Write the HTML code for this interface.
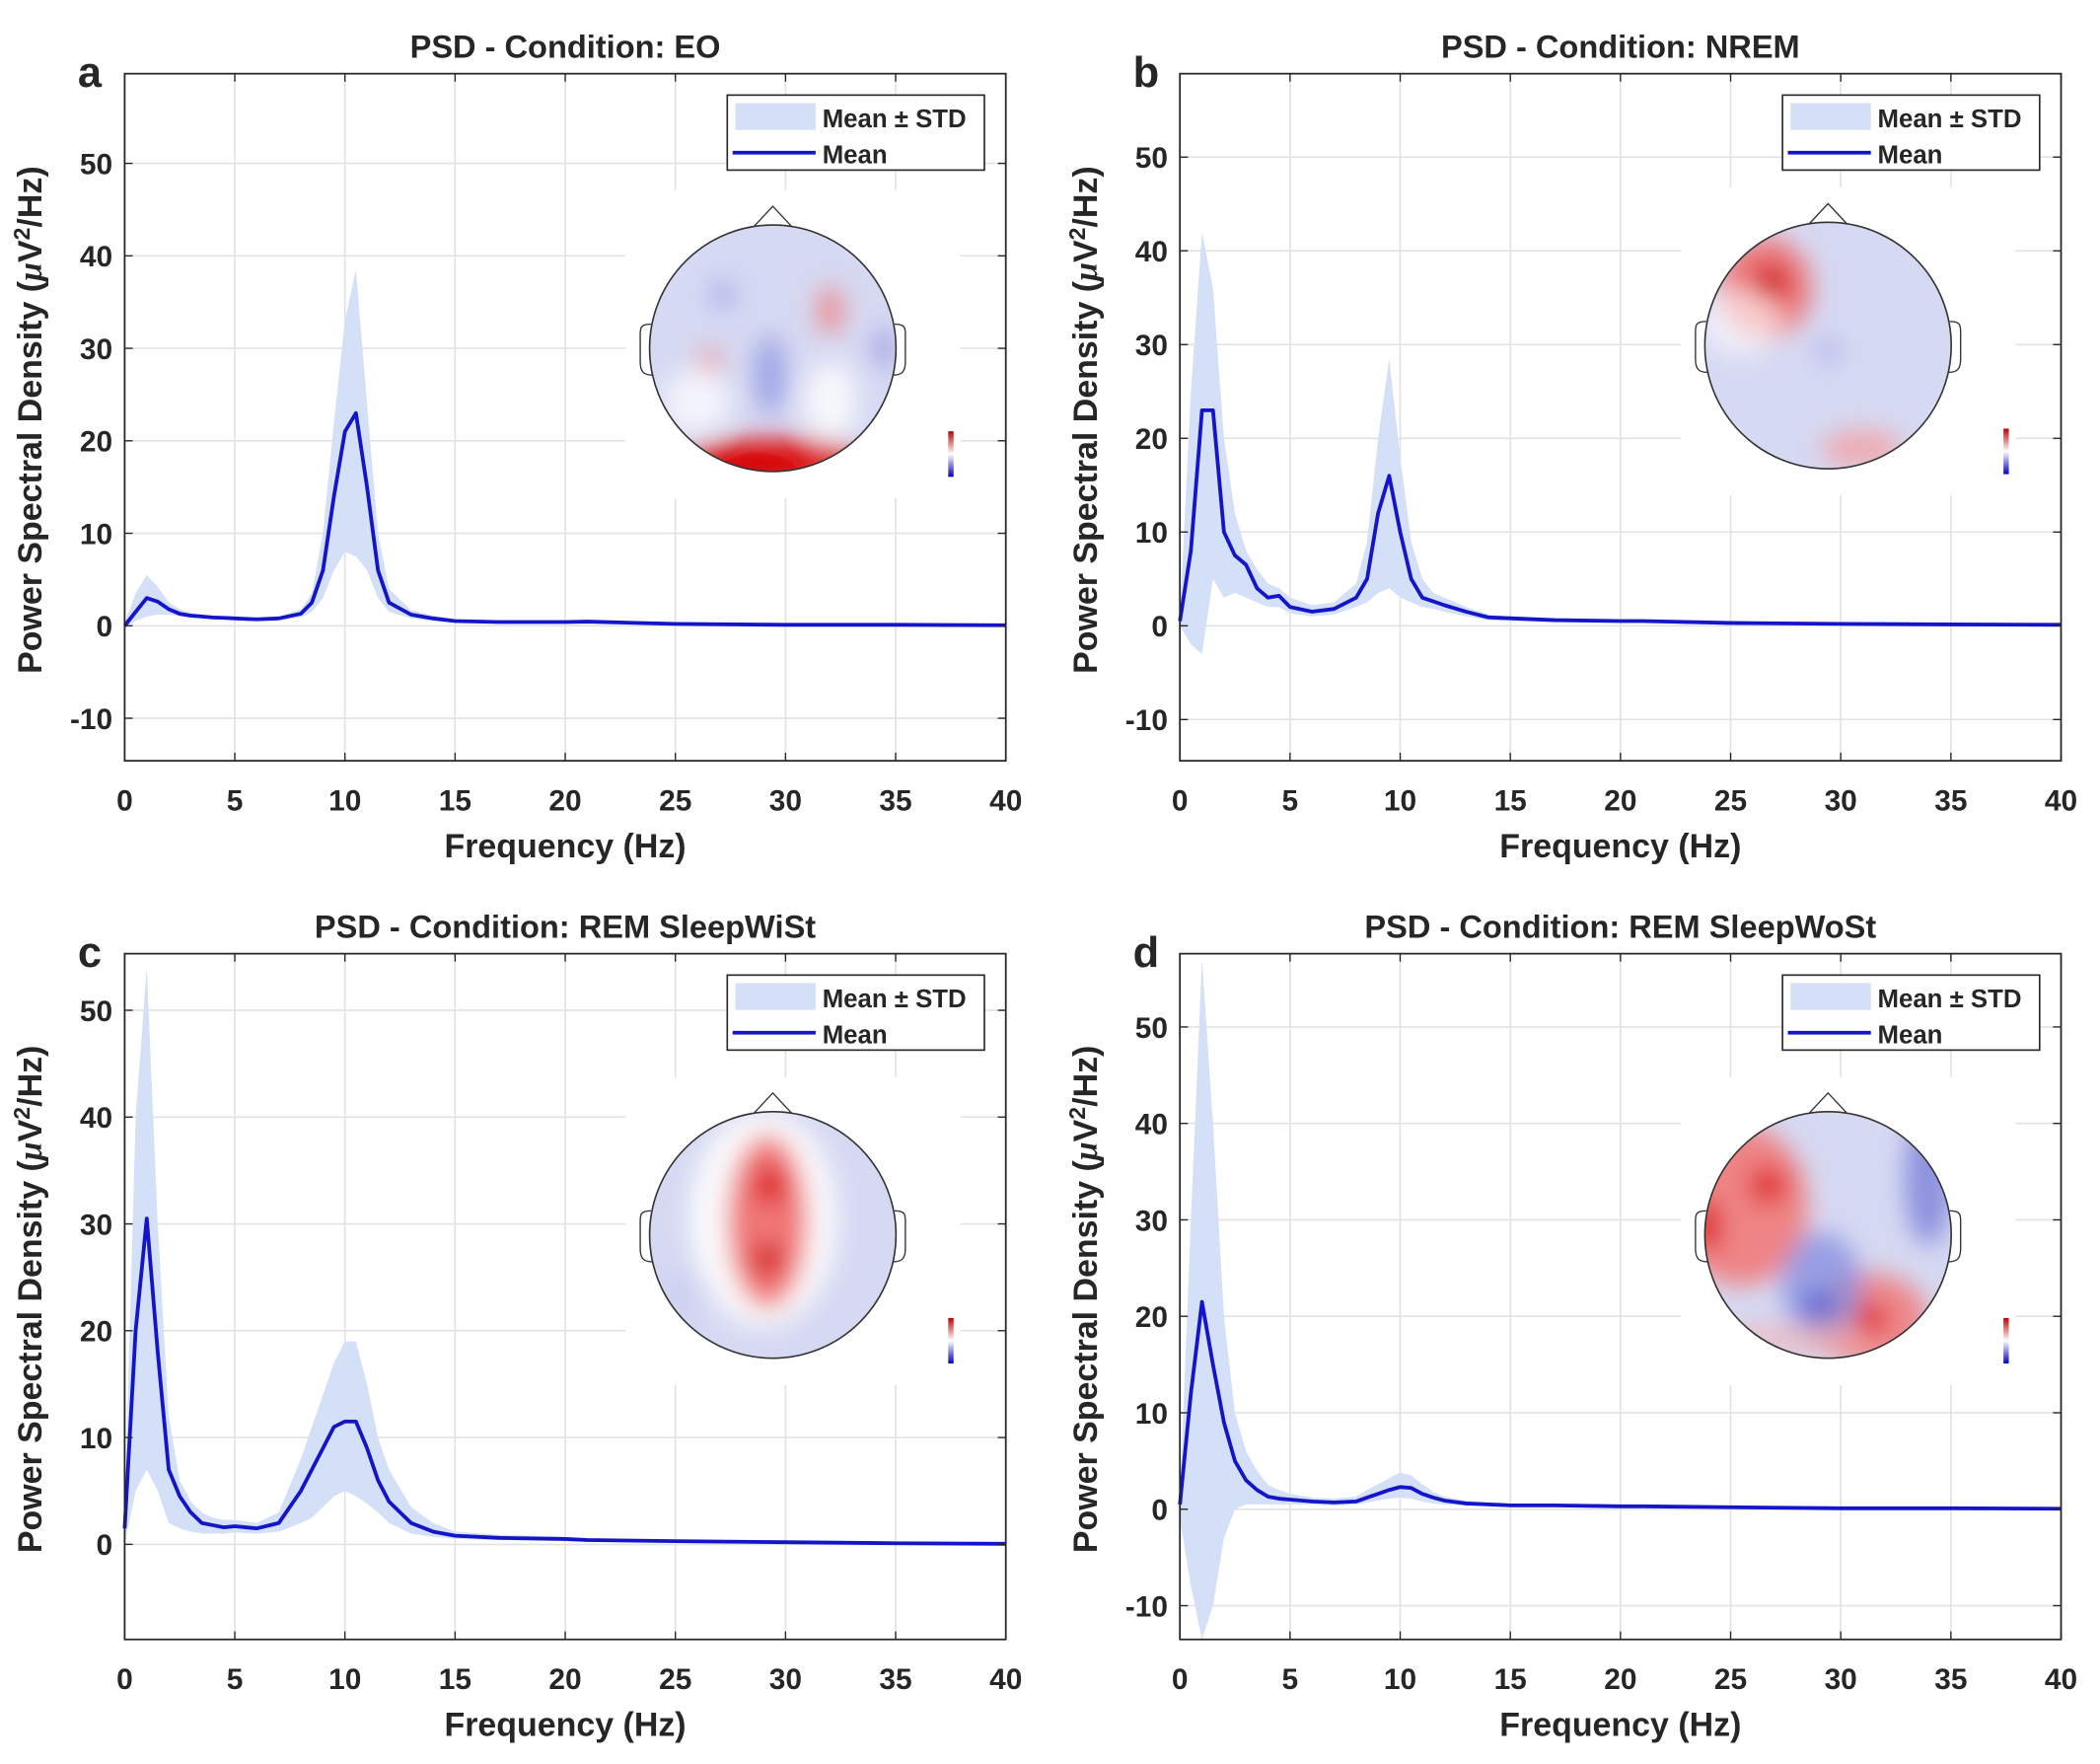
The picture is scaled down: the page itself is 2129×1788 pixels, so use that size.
<!DOCTYPE html>
<html><head><meta charset="utf-8"><style>
html,body{margin:0;padding:0;background:#fff}
svg{display:block}
text{font-family:"Liberation Sans",Arial,sans-serif;font-weight:bold;fill:#262626}
</style></head><body>
<svg id="fig" xmlns="http://www.w3.org/2000/svg" width="2129" height="1788" viewBox="0 0 1568 1317">
<defs>
<filter id="blur" x="-50%" y="-50%" width="200%" height="200%"><feGaussianBlur stdDeviation="9"/></filter>
<linearGradient id="cbar" x1="0" y1="0" x2="0" y2="1"><stop offset="0" stop-color="#c00000"/><stop offset="0.5" stop-color="#ffffff"/><stop offset="1" stop-color="#0000c0"/></linearGradient>
</defs>
</svg>
<script>
const freqs=[0,0.5,1,1.5,2,2.5,3,3.5,4,4.5,5,6,7,8,8.5,9,9.5,10,10.5,11,11.5,12,13,14,15,17,20,21,25,30,35,40];
const xTicks=[0,5,10,15,20,25,30,35,40];
const meanA=[0,1.5,3,2.6,1.8,1.3,1.1,1.0,0.9,0.85,0.8,0.7,0.8,1.3,2.5,6,14,21,23,15,6,2.5,1.2,0.8,0.5,0.4,0.4,0.45,0.2,0.1,0.1,0.05];
const upA=[0.3,3.5,5.5,4.2,2.5,1.8,1.4,1.2,1.1,1.0,1.0,0.9,1.0,1.8,3.5,10,22,33,38.5,24,10,4,1.7,1.1,0.7,0.6,0.6,0.6,0.3,0.2,0.15,0.1];
const loA=[-0.3,0.5,1,1.2,1.2,1.0,0.9,0.8,0.75,0.7,0.65,0.55,0.6,0.9,1.5,3,6,8,7.5,6,3,1.5,0.8,0.5,0.35,0.3,0.3,0.3,0.1,0.05,0.05,0];
const meanB=[0.5,8,23,23,10,7.5,6.5,4,3,3.2,2,1.5,1.8,3,5,12,16,10,5,3,2.6,2.2,1.5,0.9,0.8,0.6,0.5,0.5,0.3,0.2,0.15,0.1];
const upB=[1,25,42,36,20,12,8,6,4.5,4,3,2.2,2.5,4.5,9,20,28.5,18,9,5,3.5,3,2,1.2,1,0.8,0.7,0.6,0.4,0.3,0.2,0.15];
const loB=[0,-2,-3,5,3,3.5,3,2.5,2,2,1.3,1,1.2,2,2.5,3.5,4,3,2.5,2,1.8,1.5,1,0.6,0.5,0.4,0.3,0.3,0.2,0.1,0.1,0.05];
const meanC=[1.5,20,30.5,18,7,4.5,3,2,1.8,1.6,1.7,1.5,2,5,7,9,11,11.5,11.5,9,6,4,2,1.2,0.8,0.6,0.5,0.4,0.3,0.2,0.1,0.05];
const upC=[3,40,54,30,12,6,4,3,2.5,2.3,2.3,2,3,8,11,14,17,19,19,15,10,7,3.5,2,1.2,0.9,0.7,0.6,0.4,0.3,0.2,0.1];
const loC=[0,5,7,5,2,1.5,1.2,1,1,1,1.1,1,1.2,2,2.5,3.5,4.5,5,4.5,3.8,3,2,1,0.7,0.5,0.4,0.3,0.3,0.2,0.1,0.05,0];
const meanD=[0.5,12,21.5,15,9,5,3,2,1.3,1.1,1,0.8,0.7,0.8,1.2,1.6,2,2.3,2.2,1.6,1.2,0.9,0.6,0.5,0.4,0.4,0.3,0.3,0.2,0.1,0.1,0.05];
const upD=[1,30,57,40,20,10,6,4,2.5,2,1.6,1.2,1.1,1.3,2,2.6,3.2,3.8,3.5,2.6,1.8,1.3,0.9,0.7,0.6,0.5,0.4,0.4,0.3,0.2,0.15,0.1];
const loD=[-1,-8,-13.5,-10,-3,0,0.5,0.5,0.5,0.5,0.5,0.5,0.4,0.5,0.7,0.9,1.1,1.2,1.1,0.8,0.6,0.5,0.4,0.3,0.3,0.3,0.2,0.2,0.1,0.05,0.05,0];
const yTicksA=[-10,0,10,20,30,40,50];
const yTicksC=[0,10,20,30,40,50];

const NS="http://www.w3.org/2000/svg";
const svg=document.getElementById('fig');
function el(tag,attrs,parent,txt){const e=document.createElementNS(NS,tag);for(const k in attrs)e.setAttribute(k,attrs[k]);if(txt!==undefined)e.textContent=txt;(parent||svg).appendChild(e);return e;}

const panels=[
 {id:'a',title:'PSD - Condition: EO',ox:0,oy:0,top:55,bot:568,ymin:-14.6,ymax:59.7,yt:yTicksA,m:meanA,u:upA,l:loA,head:[577,260],
  blobs:[[577,345,70,18,'#e01010',0.95],[560,352,40,12,'#d00000',0.9],[620,232,10,18,'#f08080',0.8],[530,270,10,10,'#f09090',0.7],[620,300,20,30,'#ffffff',0.8],[520,300,25,25,'#ffffff',0.7],[575,280,12,30,'#8890e0',0.7],[540,220,10,10,'#9aa0e8',0.7],[660,260,8,15,'#7a80d8',0.6]]},
 {id:'b',title:'PSD - Condition: NREM',ox:788,oy:0,top:55,bot:568,ymin:-14.4,ymax:58.9,yt:yTicksA,m:meanB,u:upB,l:loB,head:[1365,258],
  blobs:[[1318,215,35,38,'#f07070',0.9],[1322,212,14,14,'#d01010',0.95],[1300,240,30,25,'#ffffff',0.6],[1390,335,30,14,'#f4a0a0',0.8],[1365,262,10,10,'#a0a6e8',0.6]]},
 {id:'c',title:'PSD - Condition: REM SleepWiSt',ox:0,oy:657,top:712,bot:1224,ymin:-8.9,ymax:55.3,yt:yTicksC,m:meanC,u:upC,l:loC,head:[577,922],
  blobs:[[570,910,55,80,'#ffffff',0.9],[573,912,30,65,'#f07070',0.95],[575,885,12,14,'#d81010',0.9],[573,940,12,12,'#d01010',0.9],[510,965,20,20,'#c8ccf0',0.5]]},
 {id:'d',title:'PSD - Condition: REM SleepWoSt',ox:788,oy:657,top:712,bot:1224,ymin:-13.5,ymax:57.6,yt:yTicksA,m:meanD,u:upD,l:loD,head:[1365,922],
  blobs:[[1300,900,50,60,'#f08080',0.95],[1320,885,15,15,'#e03030',0.9],[1275,915,10,20,'#d80000',0.9],[1395,985,45,35,'#f08080',0.9],[1397,985,12,12,'#e02020',0.9],[1360,960,30,40,'#8890e0',0.8],[1358,975,10,10,'#4050d0',0.9],[1440,880,18,50,'#7a80d8',0.8],[1340,1000,60,12,'#f4b0b0',0.6]]}
];

panels.forEach(p=>{
 const L=93+p.ox,R=751+p.ox,T=p.top,B=p.bot;
 const g=el('g',{});
 
 
 const xs=v=>L+(v-0)/(40-0)*(R-L);
 const ys=v=>B-(v-p.ymin)/(p.ymax-p.ymin)*(B-T);
 el('rect',{x:L,y:T,width:R-L,height:B-T,fill:'#fff'},g);
 const grid=el('g',{stroke:'#e2e2e2','stroke-width':1.2},g);
 
 
 xTicks.forEach(t=>{el('line',{x1:xs(t),x2:xs(t),y1:T,y2:B},grid);});
 p.yt.forEach(t=>{el('line',{x1:L,x2:R,y1:ys(t),y2:ys(t)},grid);});
 const [hx,hy]=p.head;
 el('rect',{x:hx-110,y:hy-118,width:250,height:230,fill:'#fff'},g);
 let d='';
 freqs.forEach((f,i)=>{d+=(i?'L':'M')+xs(f).toFixed(1)+','+ys(p.u[i]).toFixed(1);});
 for(let i=freqs.length-1;i>=0;i--)d+='L'+xs(freqs[i]).toFixed(1)+','+ys(p.l[i]).toFixed(1);
 const band=el('path',{d:d+'Z',fill:'#d3e0f7',stroke:'none'},g);
 
 
 let dm='';
 freqs.forEach((f,i)=>{dm+=(i?'L':'M')+xs(f).toFixed(1)+','+ys(p.m[i]).toFixed(1);});
 const ml=el('path',{d:dm,fill:'none',stroke:'#1414c8','stroke-width':2.8,'stroke-linejoin':'round'},g);
 
 
 const topo=el('g',{},g);
 
 
 const cid='clip'+p.id;
 const cp=el('clipPath',{id:cid},topo);el('circle',{cx:hx,cy:hy,r:92},cp);
 el('path',{d:`M${hx-14},${hy-91}L${hx},${hy-106}L${hx+14},${hy-91}`,fill:'#fff',stroke:'#333','stroke-width':1},topo);
 el('path',{d:`M${hx-91},${hy-18}C${hx-99},${hy-18} ${hx-99},${hy-15} ${hx-99},${hy-10}L${hx-99},${hy+10}C${hx-99},${hy+18} ${hx-96},${hy+20} ${hx-90},${hy+20}`,fill:'#fff',stroke:'#333','stroke-width':1},topo);
 el('path',{d:`M${hx+91},${hy-18}C${hx+99},${hy-18} ${hx+99},${hy-15} ${hx+99},${hy-10}L${hx+99},${hy+10}C${hx+99},${hy+18} ${hx+96},${hy+20} ${hx+90},${hy+20}`,fill:'#fff',stroke:'#333','stroke-width':1},topo);
 const inner=el('g',{'clip-path':`url(#${cid})`},topo);
 el('circle',{cx:hx,cy:hy,r:92,fill:'#d6d9f2'},inner);
 const bl=el('g',{filter:'url(#blur)'},inner);
 p.blobs.forEach(b=>el('ellipse',{cx:b[0],cy:b[1],rx:b[2],ry:b[3],fill:b[4],opacity:b[5]},bl));
 el('circle',{cx:hx,cy:hy,r:92,fill:'none',stroke:'#333','stroke-width':1.2},topo);
 el('rect',{x:hx+131,y:hy+62,width:4,height:34,fill:'url(#cbar)'},topo);
 el('rect',{x:L,y:T,width:R-L,height:B-T,fill:'none',stroke:'#262626','stroke-width':1.3},g);
 xTicks.forEach(t=>{
  el('line',{x1:xs(t),x2:xs(t),y1:B,y2:B-6,stroke:'#262626'},g);
  el('line',{x1:xs(t),x2:xs(t),y1:T,y2:T+6,stroke:'#262626'},g);
  const tx=el('text',{x:xs(t),y:B+37,'font-size':22,'text-anchor':'middle'},g,String(t));
  
  
 });
 p.yt.forEach(t=>{
  el('line',{x1:L,x2:L+6,y1:ys(t),y2:ys(t),stroke:'#262626'},g);
  el('line',{x1:R,x2:R-6,y1:ys(t),y2:ys(t),stroke:'#262626'},g);
  const tx=el('text',{x:L-9,y:ys(t)+8,'font-size':22,'text-anchor':'end'},g,String(t));
  
  
 });
 const ti=el('text',{x:(L+R)/2,y:T-12,'font-size':24,'text-anchor':'middle'},g,p.title);
 
 
 const lt=el('text',{x:L-35,y:T+10,'font-size':32,'text-anchor':'start',fill:'#000'},g,p.id);
 
 
 const xl=el('text',{x:(L+R)/2,y:B+72,'font-size':25,'text-anchor':'middle'},g,'Frequency (Hz)');
 
 
 const cy=(T+B)/2+2;
 const yl=el('text',{x:L-62,y:cy,'font-size':25,'text-anchor':'middle',transform:`rotate(-90 ${L-62} ${cy})`},g);
 
 
 el('tspan',{},yl,'Power Spectral Density (');
 el('tspan',{'font-style':'italic','font-family':'Liberation Serif, serif'},yl,'\u03bc');
 el('tspan',{},yl,'V');
 el('tspan',{'font-size':17,dy:-9},yl,'2');
 el('tspan',{dy:9},yl,'/Hz)');
 const lg=el('g',{},g);
 
 
 const lx=543+p.ox,ly=T+16;
 el('rect',{x:lx,y:ly,width:192,height:56,fill:'#fff',stroke:'#262626','stroke-width':1.2},lg);
 el('rect',{x:lx+6,y:ly+6,width:60,height:20,fill:'#d3e0f7'},lg);
 el('line',{x1:lx+4,x2:lx+66,y1:ly+43,y2:ly+43,stroke:'#1414c8','stroke-width':2.8},lg);
 el('text',{x:lx+71,y:ly+24,'font-size':19},lg,'Mean \u00b1 STD');
 el('text',{x:lx+71,y:ly+51,'font-size':19},lg,'Mean');
});
</script>
</body></html>
